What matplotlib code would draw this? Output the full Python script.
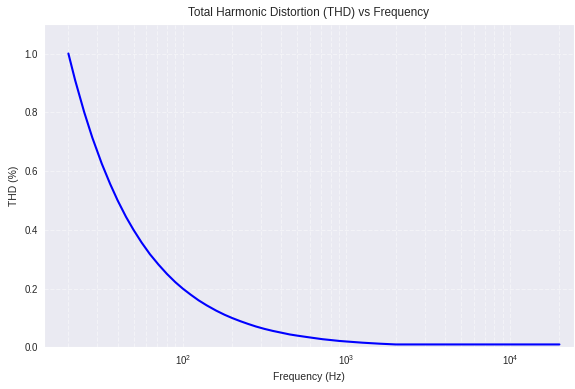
import matplotlib
matplotlib.use("Agg")
import matplotlib.pyplot as plt
import seaborn as sns

sns.set_style("darkgrid")
plt.rcParams['font.family'] = ['Liberation Sans', 'DejaVu Sans']

# Values
freq_hz = [20, 22, 25, 28, 32, 36, 40, 45, 50, 56, 63, 71, 80, 90, 100, 112,
           125, 140, 160, 180, 200, 225, 250, 280, 315, 355, 400, 450, 500,
           560, 630, 710, 800, 900, 1000, 1250, 1600, 2000, 5000, 10000, 20000]
thd_pct = [1.000, 0.909, 0.800, 0.714, 0.625, 0.556, 0.500, 0.444, 0.400,
           0.357, 0.317, 0.282, 0.250, 0.222, 0.200, 0.179, 0.160, 0.143,
           0.125, 0.111, 0.100, 0.089, 0.080, 0.071, 0.063, 0.056, 0.050,
           0.044, 0.040, 0.036, 0.032, 0.028, 0.025, 0.022, 0.020, 0.016,
           0.0125, 0.010, 0.010, 0.010, 0.010]

fig = plt.figure(figsize=(5.75, 3.89), dpi=100)
ax = fig.add_axes([0.0757, 0.107, 0.9223, 0.831])
ax.plot(freq_hz, thd_pct, color='blue', lw=1.5)
ax.set_xscale('log')
ax.set_xlim(14.1, 24500)
ax.set_ylim(0, 1.1)
ax.grid(True, which='both', color='white', ls='--', lw=0.8, alpha=0.45)
ax.set_title('Total Harmonic Distortion (THD) vs Frequency', fontsize=8.5)
ax.set_xlabel('Frequency (Hz)', fontsize=7.5)
ax.set_ylabel('THD (%)', fontsize=7.5)
ax.tick_params(labelsize=7, which='both', length=0, pad=4)
fig.savefig('out.png', dpi=100)
